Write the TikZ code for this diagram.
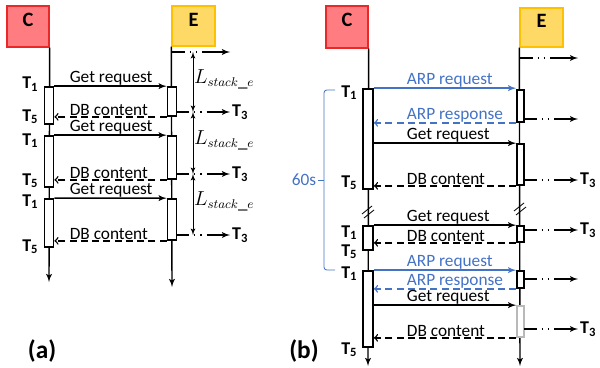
\documentclass[tikz,border=0pt]{standalone}
\usepackage{fontspec}
\setmainfont{Carlito}
\usetikzlibrary{arrows,fit}
\definecolor{boxred}{RGB}{255,124,128}
\definecolor{linered}{RGB}{235,40,40}
\definecolor{boxyel}{RGB}{255,217,102}
\definecolor{lineyel}{RGB}{255,192,0}
\definecolor{arpblue}{RGB}{68,114,196}

\begin{document}
\begin{tikzpicture}[x=0.025cm,y=-0.025cm,line width=1pt,
every node/.style={font=\fontsize{12.3}{14}\selectfont}]
\tikzstyle{actor}=[draw,inner sep=0pt,font=\fontsize{14.5}{16}\selectfont\bfseries]
\tikzstyle{bar}=[draw,fill=white,inner sep=0pt,line width=1.2pt]
\tikzstyle{msg}=[-latex']
\tikzstyle{reply}=[-to,dash pattern=on 5pt off 3pt]
\tikzstyle{arp}=[draw=arpblue,text=arpblue]
\tikzstyle{fwd}=[-latex',dash pattern=on 9pt off 3.5pt on 1pt off 3.5pt on 1pt off 3.5pt on 40pt off 1pt]
\tikzstyle{stack}=[latex'-latex',semithick]
\tikzstyle{lbla}=[anchor=south west,inner sep=0.2pt,xshift=10.3pt]
\tikzstyle{lblb}=[anchor=south west,inner sep=0.2pt,xshift=22.8pt]
\tikzstyle{tlab}=[anchor=base east,inner sep=0pt,font=\fontsize{12.8}{15}\selectfont\bfseries]
\tikzstyle{tend}=[right,inner sep=1pt,font=\fontsize{12.8}{15}\selectfont\bfseries]
\tikzstyle{lstack}=[right,inner sep=0.5pt,pos=0.45,font=\fontsize{13.5}{15}\selectfont]
\tikzstyle{panel}=[font=\fontsize{18}{20}\selectfont\bfseries]

\useasboundingbox (0,0) rectangle (600,368);

% (a) actors and lifelines
\node[actor,fill=boxred,draw=linered,fit={(7,6) (49,47)}] (Ca) {C};
\node[actor,fill=boxyel,draw=lineyel,fit={(172,6) (215,46)}] (Ea) {E};
\coordinate (Caend) at (49,282);
\coordinate (Eaend) at (172,287);
\draw[-latex'] (Ca.south east) -- (Caend);
\draw[-latex'] (Ea.south west) -- (Eaend);

% (a) activation bars
\node[bar,fit={(44.5,87) (53.5,124)}] (ca1) {};
\node[bar,fit={(44.5,136) (53.5,187)}] (ca2) {};
\node[bar,fit={(44.5,199) (53.5,247)}] (ca3) {};
\node[bar,fit={(167.5,87) (176.5,116)}] (ea1) {};
\node[bar,fit={(167.5,136) (176.5,179)}] (ea2) {};
\node[bar,fit={(167.5,199) (176.5,240)}] (ea3) {};

% (a) messages
\draw[msg] (ca1.north east) -- node[lbla,pos=0] (ga1) {Get request} (ea1.north west);
\draw[reply] (ea1.south west) -- node[lbla,pos=1] (da1) {DB content} (ea1.south west -| ca1.east);
\draw[msg] (ca2.north east) -- node[lbla,pos=0] (ga2) {Get request} (ea2.north west);
\draw[reply] (ea2.south west) -- node[lbla,pos=1] (da2) {DB content} (ea2.south west -| ca2.east);
\draw[msg] (ca3.north east) -- node[lbla,pos=0] (ga3) {Get request} (ea3.north west);
\draw[reply] (ea3.south west) -- node[lbla,pos=1] (da3) {DB content} (ea3.south west -| ca3.east);

% (a) time marks
\node[tlab] (ta1) at (39,89) {T\textsubscript{1}};
\node[tlab] (ta2) at (39,121) {T\textsubscript{5}};
\node[tlab] (ta3) at (39,145) {T\textsubscript{1}};
\node[tlab] (ta4) at (39,185) {T\textsubscript{5}};
\node[tlab] (ta5) at (39,206) {T\textsubscript{1}};
\node[tlab] (ta6) at (39,251) {T\textsubscript{5}};

% (a) forwarding and stack time
\coordinate (tipa) at (230,0);
\coordinate (lxa) at (193,0);
\coordinate (fa0) at (172,52);
\coordinate (fa1) at (176.5,112);
\coordinate (fa2) at (176.5,174);
\coordinate (fa3) at (176.5,235);
\draw[fwd] (fa0) -- (fa0 -| tipa);
\draw[fwd] (fa1) -- (fa1 -| tipa) node[tend] (t3a1) {T\textsubscript{3}};
\draw[fwd] (fa2) -- (fa2 -| tipa) node[tend] (t3a2) {T\textsubscript{3}};
\draw[fwd] (fa3) -- (fa3 -| tipa) node[tend] (t3a3) {T\textsubscript{3}};
\draw[stack] (fa0 -| lxa) -- node[lstack] (lsa1) {$L_{stack\_e}$} (fa1 -| lxa);
\draw[stack] (fa1 -| lxa) -- node[lstack] (lsa2) {$L_{stack\_e}$} (fa2 -| lxa);
\draw[stack] (fa2 -| lxa) -- node[lstack] (lsa3) {$L_{stack\_e}$} (fa3 -| lxa);

% (b) actors and lifelines
\node[actor,fill=boxred,draw=linered,fit={(326,6) (368,48)}] (Cb) {C};
\node[actor,fill=boxyel,draw=lineyel,fit={(520,8) (563,47)}] (Eb) {E};
\coordinate (Cbend) at (368,366);
\coordinate (Ebend) at (520,366);
\draw[-latex'] (Cb.south east) -- (Cbend);
\draw[-latex'] (Eb.south west) -- (Ebend);

% (b) breaks
\coordinate (brkC) at (368,212);
\coordinate (brkE) at (520,209);
\foreach \b in {brkC,brkE} {
  \draw[semithick] ([shift={(-6,2)}]\b) -- ([shift={(4,-6)}]\b);
  \draw[semithick] ([shift={(-4,6)}]\b) -- ([shift={(6,-2)}]\b);
}

% (b) activation bars
\node[bar,fit={(363,89) (373,189)}] (cb1) {};
\node[bar,fit={(363,226) (373,250)}] (cb2) {};
\node[bar,fit={(363,271) (373,347)}] (cb3) {};
\node[bar,fit={(517,90) (524,122)}] (eb1) {};
\node[bar,fit={(517,144) (524,185)}] (eb2) {};
\node[bar,fit={(517,226) (524,242)}] (eb3) {};
\node[bar,fit={(517,271) (524,288)}] (eb4) {};
\node[bar,draw=gray!55,fit={(517,306) (524,337)}] (eb5) {};

% (b) messages
\draw[msg,arp] (cb1.north east) -- node[lblb,pos=0] (ar1) {ARP request} (cb1.north east -| eb1.west);
\draw[reply,arp] (eb1.south west) -- node[lblb,pos=1] (ap1) {ARP response} (eb1.south west -| cb1.east);
\draw[msg] (eb2.north west -| cb1.east) -- node[lblb,pos=0] (gb1) {Get request} (eb2.north west);
\draw[reply] (eb2.south west) -- node[lblb,pos=1] (db1) {DB content} (eb2.south west -| cb1.east);
\draw[msg] (cb2.north east) -- node[lblb,pos=0] (gb2) {Get request} (cb2.north east -| eb3.west);
\draw[reply] (eb3.south west) -- node[lblb,pos=1] (db2) {DB content} (eb3.south west -| cb2.east);
\draw[msg,arp] (cb3.north east) -- node[lblb,pos=0] (ar2) {ARP request} (cb3.north east -| eb4.west);
\draw[reply,arp] (eb4.south west) -- node[lblb,pos=1] (ap2) {ARP response} (eb4.south west -| cb3.east);
\draw[msg] (eb5.north west -| cb3.east) -- node[lblb,pos=0] (gb3) {Get request} (eb5.north west);
\draw[reply] (eb5.south west) -- node[lblb,pos=1] (db3) {DB content} (eb5.south west -| cb3.east);

% (b) time marks
\node[tlab] (tb1) at (358,97) {T\textsubscript{1}};
\node[tlab] (tb2) at (358,187) {T\textsubscript{5}};
\node[tlab] (tb3) at (358,237) {T\textsubscript{1}};
\node[tlab] (tb4) at (358,256) {T\textsubscript{5}};
\node[tlab] (tb5) at (358,278) {T\textsubscript{1}};
\node[tlab] (tb6) at (358,354) {T\textsubscript{5}};

% (b) forwarding
\coordinate (tipb) at (578,0);
\coordinate (fb0) at (520,58);
\coordinate (fb1) at (524,119);
\coordinate (fb2) at (524,180);
\coordinate (fb3) at (524,230);
\coordinate (fb4) at (524,279);
\coordinate (fb5) at (524,329);
\draw[fwd] (fb0) -- (fb0 -| tipb);
\draw[fwd] (fb1) -- (fb1 -| tipb);
\draw[fwd] (fb2) -- (fb2 -| tipb) node[tend] (t3b1) {T\textsubscript{3}};
\draw[fwd] (fb3) -- (fb3 -| tipb) node[tend] (t3b2) {T\textsubscript{3}};
\draw[fwd] (fb4) -- (fb4 -| tipb);
\draw[fwd] (fb5) -- (fb5 -| tipb) node[tend] (t3b3) {T\textsubscript{3}};

% (b) 60s period
\coordinate (brt) at (335,90);
\coordinate (brb) at (335,270);
\coordinate (brx) at (324,0);
\coordinate (brm) at (324,180);
\coordinate (brl) at (318,180);
\draw[arpblue,semithick,rounded corners=2pt] (brt) -- (brt -| brx) -- (brb -| brx) -- (brb);
\draw[arpblue,semithick] (brm) -- (brl) node[left,inner sep=1pt,text=arpblue] (sixty) {60s};

% panel captions
\node[panel] (pa) at (42,351) {(a)};
\node[panel] (pb) at (304,351) {(b)};
\end{tikzpicture}
\end{document}
